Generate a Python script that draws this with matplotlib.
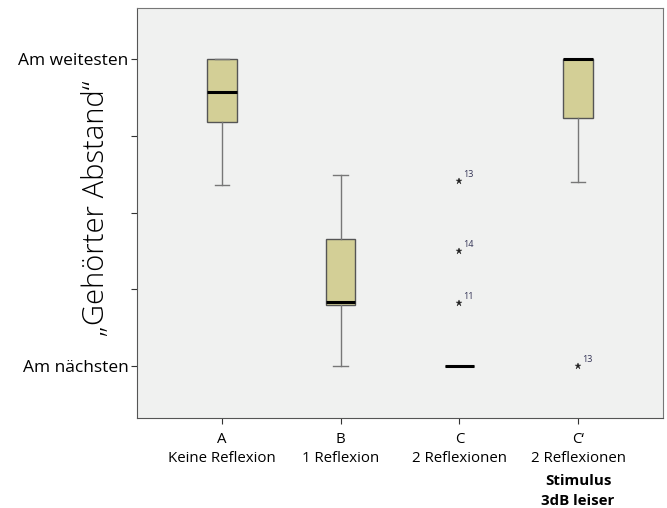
import matplotlib.pyplot as plt
from matplotlib import transforms

plt.rcParams['font.family'] = ['Open Sans', 'DejaVu Sans']

# conditions on the x axis
codes = ['A', 'B', 'C', 'C\u2018']
names = ['Keine Reflexion', '1 Reflexion', '2 Reflexionen', '2 Reflexionen']

# box statistics on the 1 (nearest) .. 5 (farthest) scale
whislo = [3.36, 1.00, 1.00, 3.40]
q1 = [4.18, 1.79, 1.00, 4.23]
med = [4.57, 1.83, 1.00, 5.00]
q3 = [5.00, 2.66, 1.00, 5.00]
whishi = [5.00, 3.49, 1.00, 5.00]

# extreme values and their case numbers
fliers = [[], [], [3.41, 2.50, 1.82], [1.00]]
flier_ids = [[], [], ['13', '14', '11'], ['13']]

stats = []
for i in range(4):
    stats.append(dict(whislo=whislo[i], q1=q1[i], med=med[i], q3=q3[i],
                      whishi=whishi[i], fliers=fliers[i]))

fig = plt.figure(figsize=(6.67, 5.08), dpi=100)
ax = fig.add_axes([0.2054, 0.177, 0.7886, 0.807])
ax.set_facecolor('#f0f1f0')

pos = [1, 2, 3, 4]
ax.bxp(stats, positions=pos, widths=0.25, patch_artist=True,
       boxprops=dict(facecolor='#d3cf96', edgecolor='#555555', linewidth=1),
       medianprops=dict(color='black', linewidth=2.2),
       whiskerprops=dict(color='#777777', linewidth=1),
       capprops=dict(color='#777777', linewidth=1),
       capwidths=0.125,
       flierprops=dict(marker='*', markersize=4.5, markerfacecolor='#222222',
                       markeredgecolor='#222222', markeredgewidth=0.3,
                       linestyle='none'))

for i in range(4):
    for v, lab in zip(fliers[i], flier_ids[i]):
        ax.annotate(lab, (pos[i], v), xytext=(3, 3), textcoords='offset points',
                    fontsize=6.5, color='#333355')

ax.set_xlim(0.284, 4.716)
ax.set_ylim(0.32, 5.67)

ax.set_yticks([1, 2, 3, 4, 5])
ax.set_yticklabels(['Am nächsten', '', '', '', 'Am weitesten'], fontsize=12.5)
ax.set_xticks(pos)
ax.set_xticklabels([c + '\n' + n for c, n in zip(codes, names)], fontsize=10.8,
                   linespacing=1.4)
ax.tick_params(axis='both', direction='out', length=4, color='#333333')
ax.tick_params(axis='x', pad=6)
ax.tick_params(axis='y', pad=2)

# extra bold lines under the last condition
trans = transforms.blended_transform_factory(ax.transData, fig.transFigure)
ax.text(4, 1 - 491 / 508, 'Stimulus\n3dB leiser', transform=trans, ha='center',
        va='center', fontsize=10.8, fontweight='bold', linespacing=1.5)

fig.text(96 / 667, 1 - 208 / 508, '\u201eGehörter Abstand\u201c', rotation=90,
         ha='center', va='center', fontsize=21, fontweight='light')

for s in ['left', 'bottom']:
    ax.spines[s].set_color('#555555')
for s in ['top', 'right']:
    ax.spines[s].set_color('#777777')

fig.savefig('out.png', dpi=100)
